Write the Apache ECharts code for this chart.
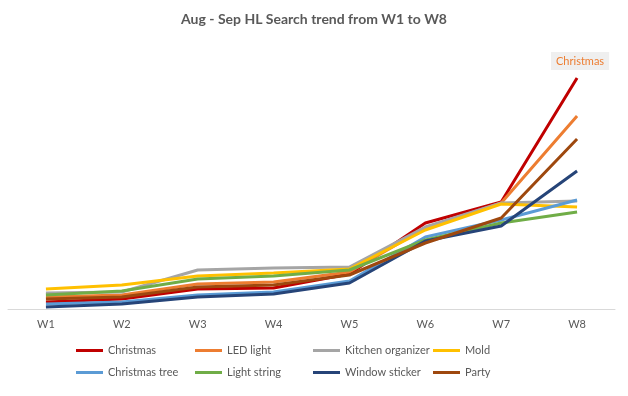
<!DOCTYPE html>
<html>
<head>
<meta charset="utf-8">
<script src="https://cdn.jsdelivr.net/npm/echarts@6/dist/echarts.min.js"></script>
<style>html,body{margin:0;padding:0;background:#fff}#c{width:628px;height:396px}</style>
</head>
<body>
<div id="c"></div>
<script>
const categories = ['W1','W2','W3','W4','W5','W6','W7','W8'];
const seriesNames = ['Christmas','LED light','Kitchen organizer','Mold','Christmas tree','Light string','Window sticker','Party'];
const christmas       = [7, 10, 20, 21, 35, 86, 107, 231];
const ledLight        = [12, 14, 25, 27, 37, 81, 106, 193];
const kitchenOrganizer= [16, 17, 39, 41, 42, 82, 106, 108];
const mold            = [20, 24, 33, 36, 40, 79, 105, 102];
const christmasTree   = [5, 7, 14, 17, 28, 72, 89, 109];
const lightString     = [14, 18, 30, 33, 39, 69, 86, 97];
const windowSticker   = [2, 5, 12, 15, 26, 68, 83, 138];
const party           = [10, 12, 22, 24, 34, 66, 91, 170];
const allValues = [christmas, ledLight, kitchenOrganizer, mold, christmasTree, lightString, windowSticker, party];
const colors = ['#C00000','#ED7D31','#A5A5A5','#FFC000','#5B9BD5','#70AD47','#264478','#9E480E'];

const FONT = 'Lato, "Liberation Sans", sans-serif';
const chart = echarts.init(document.getElementById('c'), null, {renderer:'canvas'});

const series = seriesNames.map((n, i) => {
  const s = {
    name: n, type: 'line', data: allValues[i], symbol: 'none',
    lineStyle: { width: 3, color: colors[i] }, itemStyle: { color: colors[i] },
    emphasis: { disabled: true }, animation: false
  };
  if (i === 0) {
    s.endLabel = {
      show: true, formatter: 'Christmas', align: 'center', verticalAlign: 'bottom',
      offset: [-5, -8],
      color: '#ED7D31', fontSize: 11, fontFamily: FONT,
      backgroundColor: '#EFEFEF', padding: [4, 5, 3, 5]
    };
  }
  return s;
});

const colX = [76, 195, 313, 433];
const rowY = [345, 367];
const legends = seriesNames.map((n, i) => ({
  data: [n], left: colX[i % 4], top: rowY[Math.floor(i / 4)], padding: 0,
  icon: 'rect', itemWidth: 27, itemHeight: 3, itemGap: 0,
  textStyle: { color: '#595959', fontSize: 11, fontFamily: FONT },
  selectedMode: false
}));

chart.setOption({
  backgroundColor: '#ffffff',
  animation: false,
  color: colors,
  title: {
    text: 'Aug - Sep HL Search trend from W1 to W8', left: 'center', top: 7,
    textStyle: { color: '#595959', fontSize: 14, fontWeight: 'bold', fontFamily: FONT }
  },
  legend: legends,
  grid: { left: 8, right: 13, top: 49, bottom: 87, containLabel: false },
  xAxis: {
    type: 'category', data: categories, boundaryGap: true,
    axisLine: { lineStyle: { color: '#D9D9D9', width: 1 } },
    axisTick: { show: false },
    axisLabel: { color: '#595959', fontSize: 11, fontFamily: FONT, margin: 10 }
  },
  yAxis: {
    type: 'value', min: 0, max: 260, show: false, splitLine: { show: false }
  },
  series: series
});
</script>
</body>
</html>
